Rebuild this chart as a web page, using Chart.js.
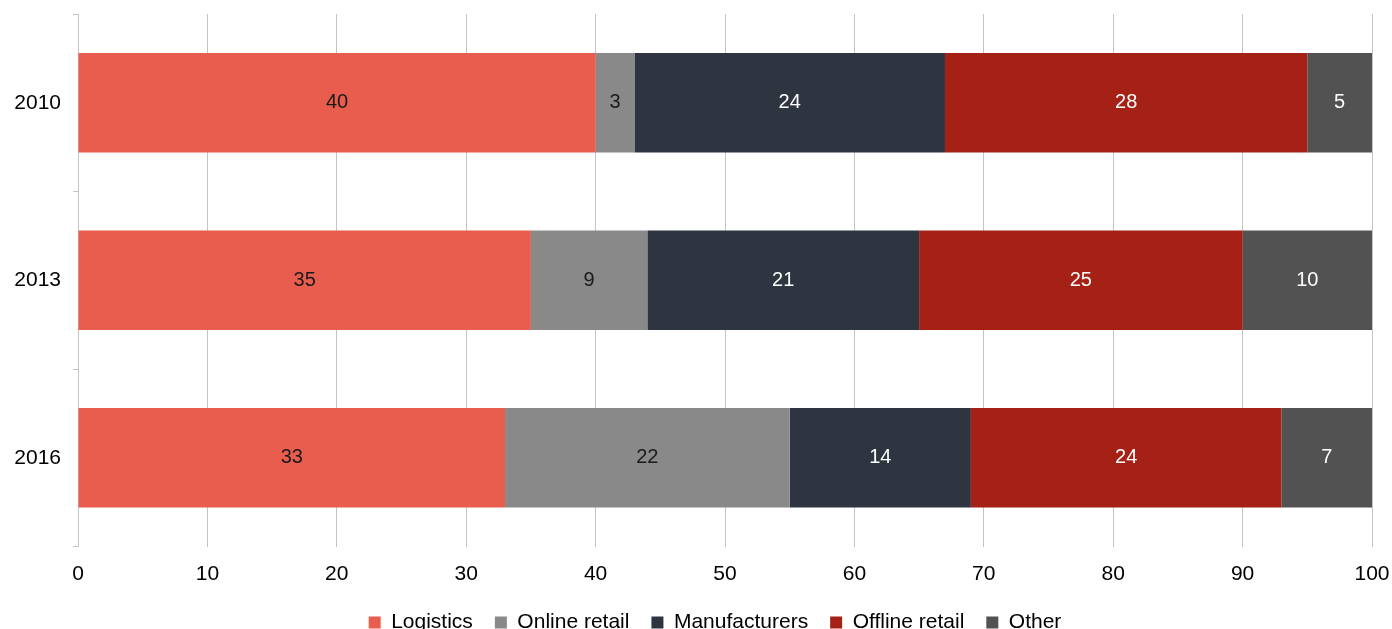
<!DOCTYPE html>
<html>
<head>
<meta charset="utf-8">
<script src="https://cdn.jsdelivr.net/npm/chart.js@4/dist/chart.umd.min.js"></script>
<style>
  html, body { margin: 0; padding: 0; background: #ffffff; overflow: hidden; }
  #wrap { position: relative; width: 1392px; height: 643px; }
</style>
</head>
<body>
<div id="wrap"><canvas id="chart"></canvas></div>
<script>
// Share of segments by year (percent)
const years = ['2010', '2013', '2016'];
const logistics     = [40, 35, 33];
const onlineRetail  = [3, 9, 22];
const manufacturers = [24, 21, 14];
const offlineRetail = [28, 25, 24];
const other         = [5, 10, 7];
const xTicks = [0, 10, 20, 30, 40, 50, 60, 70, 80, 90, 100];

const FONT = "'Liberation Sans', Arial, sans-serif";

// Writes each segment's value in the middle of its bar
const valueLabels = {
  id: 'valueLabels',
  afterDatasetsDraw(chart) {
    const ctx = chart.ctx;
    ctx.save();
    ctx.font = '20px ' + FONT;
    ctx.textAlign = 'center';
    ctx.textBaseline = 'middle';
    chart.data.datasets.forEach((ds, i) => {
      const meta = chart.getDatasetMeta(i);
      meta.data.forEach((bar, j) => {
        const v = ds.data[j];
        const p = bar.getProps(['x', 'y', 'base'], true);
        ctx.fillStyle = ds.labelColor;
        ctx.fillText(String(v), (p.x + p.base) / 2, p.y);
      });
    });
    ctx.restore();
  }
};

// Centres the legend row under the plot area rather than the whole canvas
const legendShift = {
  id: 'legendShift',
  afterLayout(chart) {
    if (chart.legend) chart.legend.left += 38;
  }
};

const series = [
  { label: 'Logistics',      data: logistics,     backgroundColor: '#E85D4E', labelColor: '#1a1a1a' },
  { label: 'Online retail',  data: onlineRetail,  backgroundColor: '#898989', labelColor: '#1a1a1a' },
  { label: 'Manufacturers',  data: manufacturers, backgroundColor: '#2E3540', labelColor: '#ffffff' },
  { label: 'Offline retail', data: offlineRetail, backgroundColor: '#A52116', labelColor: '#ffffff' },
  { label: 'Other',          data: other,         backgroundColor: '#525252', labelColor: '#ffffff' }
];

new Chart(document.getElementById('chart'), {
  type: 'bar',
  data: {
    labels: years,
    datasets: series.map(s => Object.assign({ borderWidth: 0, barPercentage: 0.56, categoryPercentage: 1.0 }, s))
  },
  options: {
    indexAxis: 'y',
    responsive: true,
    maintainAspectRatio: false,
    animation: false,
    layout: { padding: { top: 14, right: 0, left: 0, bottom: 0 } },
    scales: {
      x: {
        stacked: true,
        min: 0,
        max: 100,
        afterBuildTicks(scale) { scale.ticks = xTicks.map(v => ({ value: v })); },
        afterFit(scale) {
          scale.height = 43.5;
          scale.paddingLeft = 0;
          scale.paddingRight = 20;
        },
        border: { display: false },
        grid: { color: '#c4c4c4', lineWidth: 1, drawTicks: false },
        ticks: { color: '#000000', padding: 15, font: { family: FONT, size: 21 } }
      },
      y: {
        stacked: true,
        afterFit(scale) {
          scale.width = 78;
          scale.paddingTop = 0;
          scale.paddingBottom = 0;
        },
        border: { display: true, color: '#c4c4c4', width: 1 },
        grid: { offset: true, drawOnChartArea: false, drawTicks: true, tickLength: 5, color: '#c4c4c4' },
        ticks: { color: '#000000', padding: 12, font: { family: FONT, size: 21 } }
      }
    },
    plugins: {
      legend: {
        position: 'bottom',
        labels: {
          boxWidth: 12,
          boxHeight: 12,
          padding: 22,
          color: '#000000',
          font: { family: FONT, size: 21 }
        }
      },
      tooltip: { enabled: false }
    }
  },
  plugins: [valueLabels, legendShift]
});
</script>
</body>
</html>
